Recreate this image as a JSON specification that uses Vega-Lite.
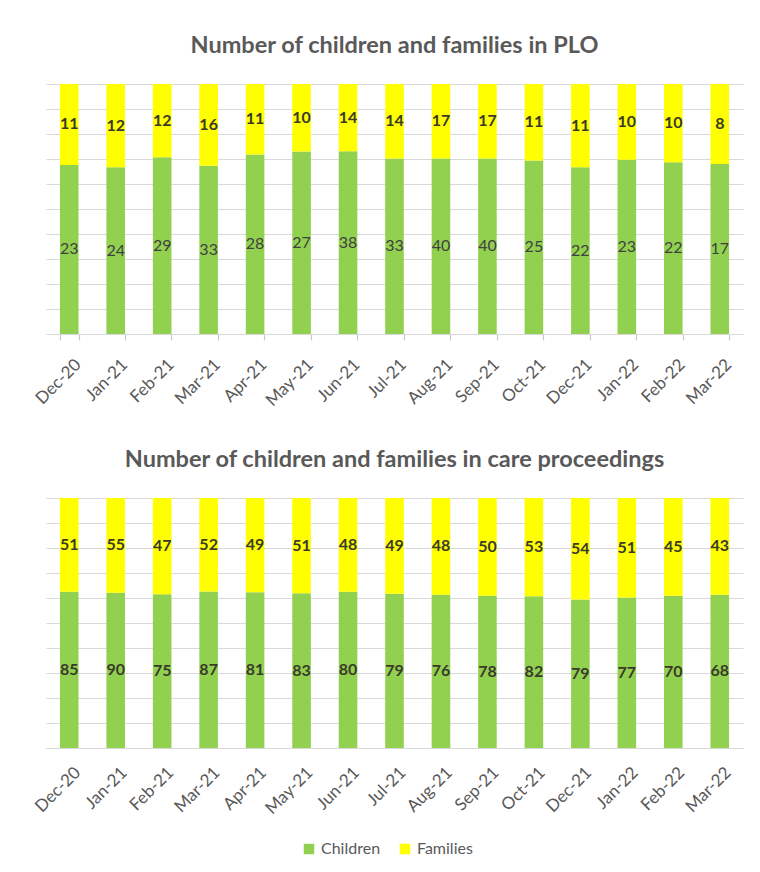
{
  "$schema": "https://vega.github.io/schema/vega-lite/v6.json",
  "background": "white",
  "padding": {"left": 31, "top": 33, "right": 5, "bottom": 5},
  "spacing": 38,
  "datasets": {
    "plo": [
      {"month": "Dec-20", "series": "Children", "value": 23}, {"month": "Dec-20", "series": "Families", "value": 11},
      {"month": "Jan-21", "series": "Children", "value": 24}, {"month": "Jan-21", "series": "Families", "value": 12},
      {"month": "Feb-21", "series": "Children", "value": 29}, {"month": "Feb-21", "series": "Families", "value": 12},
      {"month": "Mar-21", "series": "Children", "value": 33}, {"month": "Mar-21", "series": "Families", "value": 16},
      {"month": "Apr-21", "series": "Children", "value": 28}, {"month": "Apr-21", "series": "Families", "value": 11},
      {"month": "May-21", "series": "Children", "value": 27}, {"month": "May-21", "series": "Families", "value": 10},
      {"month": "Jun-21", "series": "Children", "value": 38}, {"month": "Jun-21", "series": "Families", "value": 14},
      {"month": "Jul-21", "series": "Children", "value": 33}, {"month": "Jul-21", "series": "Families", "value": 14},
      {"month": "Aug-21", "series": "Children", "value": 40}, {"month": "Aug-21", "series": "Families", "value": 17},
      {"month": "Sep-21", "series": "Children", "value": 40}, {"month": "Sep-21", "series": "Families", "value": 17},
      {"month": "Oct-21", "series": "Children", "value": 25}, {"month": "Oct-21", "series": "Families", "value": 11},
      {"month": "Dec-21", "series": "Children", "value": 22}, {"month": "Dec-21", "series": "Families", "value": 11},
      {"month": "Jan-22", "series": "Children", "value": 23}, {"month": "Jan-22", "series": "Families", "value": 10},
      {"month": "Feb-22", "series": "Children", "value": 22}, {"month": "Feb-22", "series": "Families", "value": 10},
      {"month": "Mar-22", "series": "Children", "value": 17}, {"month": "Mar-22", "series": "Families", "value": 8}
    ],
    "care": [
      {"month": "Dec-20", "series": "Children", "value": 85}, {"month": "Dec-20", "series": "Families", "value": 51},
      {"month": "Jan-21", "series": "Children", "value": 90}, {"month": "Jan-21", "series": "Families", "value": 55},
      {"month": "Feb-21", "series": "Children", "value": 75}, {"month": "Feb-21", "series": "Families", "value": 47},
      {"month": "Mar-21", "series": "Children", "value": 87}, {"month": "Mar-21", "series": "Families", "value": 52},
      {"month": "Apr-21", "series": "Children", "value": 81}, {"month": "Apr-21", "series": "Families", "value": 49},
      {"month": "May-21", "series": "Children", "value": 83}, {"month": "May-21", "series": "Families", "value": 51},
      {"month": "Jun-21", "series": "Children", "value": 80}, {"month": "Jun-21", "series": "Families", "value": 48},
      {"month": "Jul-21", "series": "Children", "value": 79}, {"month": "Jul-21", "series": "Families", "value": 49},
      {"month": "Aug-21", "series": "Children", "value": 76}, {"month": "Aug-21", "series": "Families", "value": 48},
      {"month": "Sep-21", "series": "Children", "value": 78}, {"month": "Sep-21", "series": "Families", "value": 50},
      {"month": "Oct-21", "series": "Children", "value": 82}, {"month": "Oct-21", "series": "Families", "value": 53},
      {"month": "Dec-21", "series": "Children", "value": 79}, {"month": "Dec-21", "series": "Families", "value": 54},
      {"month": "Jan-22", "series": "Children", "value": 77}, {"month": "Jan-22", "series": "Families", "value": 51},
      {"month": "Feb-22", "series": "Children", "value": 70}, {"month": "Feb-22", "series": "Families", "value": 45},
      {"month": "Mar-22", "series": "Children", "value": 68}, {"month": "Mar-22", "series": "Families", "value": 43}
    ]
  },
  "vconcat": [
    {
      "title": {"text": "Number of children and families in PLO"},
      "width": 697,
      "height": 250,
      "data": {"name": "plo"},
      "transform": [
        {"stack": "value", "groupby": ["month"], "sort": [{"field": "series"}], "offset": "normalize", "as": ["y0", "y1"]}
      ],
      "encoding": {
        "x": {"field": "month", "type": "nominal", "sort": null, "title": null,
              "scale": {"paddingInner": 0.6, "paddingOuter": 0.3},
              "axis": {"ticks": true, "tickBand": "extent", "tickSize": 6, "tickColor": "#c8c8c8", "tickWidth": 1.2}}
      },
      "layer": [
        {
          "mark": {"type": "bar"},
          "encoding": {
            "y": {"field": "y0", "type": "quantitative", "scale": {"domain": [0, 1]},
                  "axis": {"labels": false, "ticks": false, "domain": false, "title": null, "tickCount": 10, "grid": true}},
            "y2": {"field": "y1"},
            "color": {"field": "series", "type": "nominal",
                      "scale": {"domain": ["Children", "Families"], "range": ["#92d050", "#ffff00"]},
                      "legend": {"title": null}}
          }
        },
        {
          "transform": [{"filter": "datum.series == 'Families'"}, {"fold": ["y0", "y1"], "as": ["edge", "pos"]}],
          "mark": {"type": "text", "fontWeight": "bold", "fontSize": 16, "color": "#3a3a2a", "baseline": "middle"},
          "encoding": {
            "y": {"aggregate": "mean", "field": "pos", "type": "quantitative", "stack": null},
            "text": {"aggregate": "max", "field": "value", "type": "quantitative"},
            "detail": {"field": "series"}
          }
        },
        {
          "transform": [{"filter": "datum.series == 'Children'"}, {"fold": ["y0", "y1"], "as": ["edge", "pos"]}],
          "mark": {"type": "text", "fontWeight": "normal", "fontSize": 16, "color": "#404040", "baseline": "middle"},
          "encoding": {
            "y": {"aggregate": "mean", "field": "pos", "type": "quantitative", "stack": null},
            "text": {"aggregate": "max", "field": "value", "type": "quantitative"},
            "detail": {"field": "series"}
          }
        }
      ]
    },
    {
      "title": {"text": "Number of children and families in care proceedings"},
      "width": 697,
      "height": 250,
      "data": {"name": "care"},
      "transform": [
        {"stack": "value", "groupby": ["month"], "sort": [{"field": "series"}], "offset": "normalize", "as": ["y0", "y1"]}
      ],
      "encoding": {
        "x": {"field": "month", "type": "nominal", "sort": null, "title": null,
              "scale": {"paddingInner": 0.6, "paddingOuter": 0.3}}
      },
      "layer": [
        {
          "mark": {"type": "bar"},
          "encoding": {
            "y": {"field": "y0", "type": "quantitative", "scale": {"domain": [0, 1]},
                  "axis": {"labels": false, "ticks": false, "domain": false, "title": null, "tickCount": 10, "grid": true}},
            "y2": {"field": "y1"},
            "color": {"field": "series", "type": "nominal",
                      "scale": {"domain": ["Children", "Families"], "range": ["#92d050", "#ffff00"]},
                      "legend": {"title": null, "orient": "none", "legendX": 255, "legendY": 757}}
          }
        },
        {
          "transform": [{"fold": ["y0", "y1"], "as": ["edge", "pos"]}],
          "mark": {"type": "text", "fontWeight": "bold", "fontSize": 16, "color": "#3a3a2a", "baseline": "middle"},
          "encoding": {
            "y": {"aggregate": "mean", "field": "pos", "type": "quantitative", "stack": null},
            "text": {"aggregate": "max", "field": "value", "type": "quantitative"},
            "detail": {"field": "series"}
          }
        }
      ]
    }
  ],
  "config": {
    "font": "Lato",
    "view": {"stroke": null},
    "title": {"fontSize": 23.5, "fontWeight": "bold", "color": "#595959", "anchor": "middle", "offset": 27, "font": "Lato"},
    "axis": {"gridColor": "#d9d9d9", "gridWidth": 1.2, "domainColor": "#d9d9d9", "domainWidth": 1.2},
    "axisX": {"labelAngle": -45, "labelFontSize": 17, "labelColor": "#595959", "ticks": false, "labelPadding": 16, "labelOffset": 3, "labelFont": "Lato"},
    "legend": {"direction": "horizontal", "symbolType": "square", "symbolSize": 110,
               "labelFontSize": 16, "labelColor": "#595959", "labelFont": "Lato", "columnPadding": 16, "symbolStrokeWidth": 0}
  }
}
